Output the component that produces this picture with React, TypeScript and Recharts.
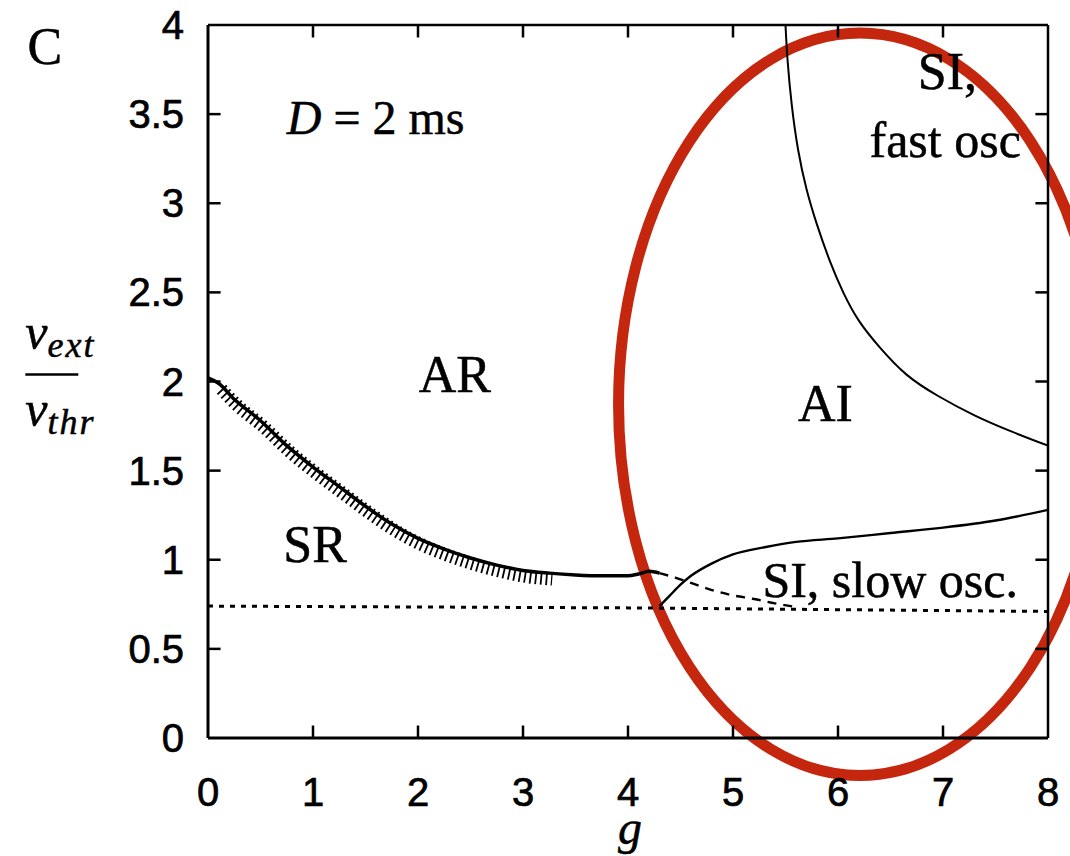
import React from 'react';
import {
  LineChart,
  Line,
  XAxis,
  YAxis,
  ReferenceArea,
  ReferenceDot,
  ReferenceLine,
} from 'recharts';

// SR / AR boundary (hatched)
const srG = [0, 0.1, 0.25, 0.5, 0.75, 1, 1.25, 1.5, 1.75, 2, 2.25, 2.5, 2.75, 3, 3.25, 3.5, 3.75, 4, 4.1, 4.2, 4.3];
const srV = [2.02, 1.99, 1.9, 1.78, 1.64, 1.52, 1.41, 1.3, 1.2, 1.12, 1.06, 1.01, 0.97, 0.94, 0.925, 0.915, 0.91, 0.91, 0.92, 0.935, 0.925];

// hatch marks under the SR boundary
const hatchG = [0.1, 0.25, 0.5, 0.75, 1, 1.25, 1.5, 1.75, 2, 2.25, 2.5, 2.75, 3, 3.25];
const hatchV = [1.99, 1.9, 1.78, 1.64, 1.52, 1.41, 1.3, 1.2, 1.12, 1.06, 1.01, 0.97, 0.94, 0.925];

// dashed continuation
const dashG = [4.3, 4.45, 4.6, 4.8, 5.0, 5.2, 5.4, 5.6];
const dashV = [0.925, 0.9, 0.87, 0.83, 0.8, 0.78, 0.755, 0.735];

// AI / SI slow osc boundary
const slowG = [4.3, 4.4, 4.5, 4.6, 4.8, 5.0, 5.3, 5.6, 6.0, 6.5, 7.0, 7.5, 8.0];
const slowV = [0.74, 0.8, 0.86, 0.91, 0.98, 1.03, 1.07, 1.1, 1.12, 1.15, 1.18, 1.22, 1.28];

// AI / SI fast osc boundary
const fastG = [5.5, 5.52, 5.56, 5.62, 5.7, 5.8, 5.92, 6.05, 6.2, 6.4, 6.65, 6.95, 7.3, 7.65, 8.0];
const fastV = [4.0, 3.8, 3.55, 3.3, 3.08, 2.88, 2.68, 2.5, 2.34, 2.19, 2.04, 1.92, 1.81, 1.72, 1.64];

// dotted threshold line
const thrG = [0, 4, 8];
const thrV = [0.74, 0.73, 0.71];

const xTicks = [0, 1, 2, 3, 4, 5, 6, 7, 8];
const yTicks = [0, 0.5, 1, 1.5, 2, 2.5, 3, 3.5, 4];
const xInner = [1, 2, 3, 4, 5, 6, 7];
const yInner = [0.5, 1, 1.5, 2, 2.5, 3, 3.5];

// inward tick length, in axis units
const TICK_G = 0.12;
const TICK_V = 0.07;

const zip = (g: number[], v: number[]) => g.map((x, i) => ({ g: x, v: v[i] }));

const serif = '"Liberation Serif", "DejaVu Serif", serif';
const sans = '"Liberation Sans", Arial, sans-serif';

const BottomTick = (p: any) => (
  <text
    x={p.x}
    y={p.y + 68}
    textAnchor="middle"
    fontFamily={sans}
    fontSize={40}
    fill="#000"
    stroke="#000"
    strokeWidth={0.7}
  >
    {p.payload.value}
  </text>
);

const LeftTick = (p: any) => (
  <text
    x={p.x - 24}
    y={p.y + 14}
    textAnchor="end"
    fontFamily={sans}
    fontSize={40}
    fill="#000"
    stroke="#000"
    strokeWidth={0.7}
  >
    {p.payload.value}
  </text>
);

const label = (text: React.ReactNode, anchor: string, size = 52, italic = false) => (p: any) => (
  <text
    x={p.cx}
    y={p.cy}
    textAnchor={anchor}
    fontFamily={serif}
    fontSize={size}
    fontStyle={italic ? 'italic' : 'normal'}
    fill="#000"
    stroke="#000"
    strokeWidth={0.5}
  >
    {text}
  </text>
);

const FractionLabel = (p: any) => (
  <g fontFamily={serif} fontStyle="italic" fill="#000" stroke="#000" strokeWidth={0.5}>
    <text x={p.cx} y={p.cy}>
      <tspan fontSize={50}>ν</tspan>
      <tspan fontSize={36} dy={8} letterSpacing={2}>ext</tspan>
    </text>
    <line x1={p.cx} x2={p.cx + 53} y1={p.cy + 25} y2={p.cy + 25} stroke="#000" strokeWidth={2.5} />
    <text x={p.cx} y={p.cy + 77}>
      <tspan fontSize={50}>ν</tspan>
      <tspan fontSize={36} dy={8} letterSpacing={2}>thr</tspan>
    </text>
  </g>
);

const Ellipse = (p: any) => (
  <ellipse
    cx={p.x + p.width / 2}
    cy={p.y + p.height / 2}
    rx={Math.abs(p.width) / 2}
    ry={Math.abs(p.height) / 2}
    fill="none"
    stroke="#C4260E"
    strokeWidth={11}
  />
);

export default function App() {
  return (
    <div style={{ position: 'absolute', left: 0, top: 0, background: '#fff' }}>
      <LineChart width={1070} height={856} margin={{ top: 25, right: 22, left: 0, bottom: 0 }}>
        <XAxis
          dataKey="g"
          type="number"
          domain={[0, 8]}
          ticks={xTicks}
          height={118}
          tickSize={0}
          tickMargin={0}
          tickLine={false}
          axisLine={{ stroke: '#000', strokeWidth: 3 }}
          tick={<BottomTick />}
          allowDataOverflow
        />
        <YAxis
          type="number"
          domain={[0, 4]}
          ticks={yTicks}
          width={208}
          tickSize={0}
          tickMargin={0}
          tickLine={false}
          axisLine={{ stroke: '#000', strokeWidth: 3 }}
          tick={<LeftTick />}
          allowDataOverflow
        />

        {/* frame */}
        <ReferenceLine y={4} stroke="#000" strokeWidth={2.5} ifOverflow="visible" />
        <ReferenceLine x={8} stroke="#000" strokeWidth={2.5} ifOverflow="visible" />

        {/* inward ticks on all four sides */}
        {xInner.map((t) => (
          <ReferenceLine key={`b${t}`} segment={[{ x: t, y: 0 }, { x: t, y: TICK_V }]} stroke="#000" strokeWidth={2.5} ifOverflow="visible" />
        ))}
        {xInner.map((t) => (
          <ReferenceLine key={`t${t}`} segment={[{ x: t, y: 4 }, { x: t, y: 4 - TICK_V }]} stroke="#000" strokeWidth={2.5} ifOverflow="visible" />
        ))}
        {yInner.map((t) => (
          <ReferenceLine key={`l${t}`} segment={[{ x: 0, y: t }, { x: TICK_G, y: t }]} stroke="#000" strokeWidth={2.5} ifOverflow="visible" />
        ))}
        {yInner.map((t) => (
          <ReferenceLine key={`r${t}`} segment={[{ x: 8, y: t }, { x: 8 - TICK_G, y: t }]} stroke="#000" strokeWidth={2.5} ifOverflow="visible" />
        ))}

        <Line
          data={zip(thrG, thrV)}
          dataKey="v"
          type="linear"
          stroke="#000"
          strokeWidth={3}
          strokeDasharray="5 6"
          dot={false}
          isAnimationActive={false}
        />
        <Line
          data={zip(hatchG, hatchV)}
          dataKey="v"
          type="monotone"
          stroke="#000"
          strokeWidth={13}
          strokeDasharray="1.8 3.6"
          transform="translate(3,6)"
          dot={false}
          isAnimationActive={false}
        />
        <Line
          data={zip(srG, srV)}
          dataKey="v"
          type="monotone"
          stroke="#000"
          strokeWidth={3.5}
          dot={false}
          isAnimationActive={false}
        />
        <Line
          data={zip(dashG, dashV)}
          dataKey="v"
          type="monotone"
          stroke="#000"
          strokeWidth={2.4}
          strokeDasharray="9 7"
          dot={false}
          isAnimationActive={false}
        />
        <Line
          data={zip(slowG, slowV)}
          dataKey="v"
          type="monotone"
          stroke="#000"
          strokeWidth={2.4}
          dot={false}
          isAnimationActive={false}
        />
        <Line
          data={zip(fastG, fastV)}
          dataKey="v"
          type="natural"
          stroke="#000"
          strokeWidth={2}
          dot={false}
          isAnimationActive={false}
        />

        <ReferenceDot x={-1.72} y={3.78} r={0} ifOverflow="visible" shape={label('C', 'start', 52)} />
        <ReferenceDot
          x={0.75}
          y={3.39}
          r={0}
          ifOverflow="visible"
          shape={label(
            <>
              <tspan fontStyle="italic">D</tspan> = 2 ms
            </>,
            'start',
            48,
          )}
        />
        <ReferenceDot x={2.35} y={1.94} r={0} ifOverflow="visible" shape={label('AR', 'middle')} />
        <ReferenceDot x={1.02} y={0.99} r={0} ifOverflow="visible" shape={label('SR', 'middle')} />
        <ReferenceDot x={5.88} y={1.78} r={0} ifOverflow="visible" shape={label('AI', 'middle')} />
        <ReferenceDot x={6.76} y={3.64} r={0} ifOverflow="visible" shape={label('SI,', 'start')} />
        <ReferenceDot x={6.3} y={3.26} r={0} ifOverflow="visible" shape={label('fast osc', 'start', 50)} />
        <ReferenceDot x={5.28} y={0.79} r={0} ifOverflow="visible" shape={label('SI, slow osc.', 'start', 50)} />
        <ReferenceDot x={4.02} y={-0.595} r={0} ifOverflow="visible" shape={label('g', 'middle', 48, true)} />
        <ReferenceDot x={-1.74} y={2.18} r={0} ifOverflow="visible" shape={FractionLabel} />

        <ReferenceArea x1={3.91} x2={8.51} y1={-0.21} y2={3.955} ifOverflow="visible" shape={Ellipse} />
      </LineChart>
    </div>
  );
}
